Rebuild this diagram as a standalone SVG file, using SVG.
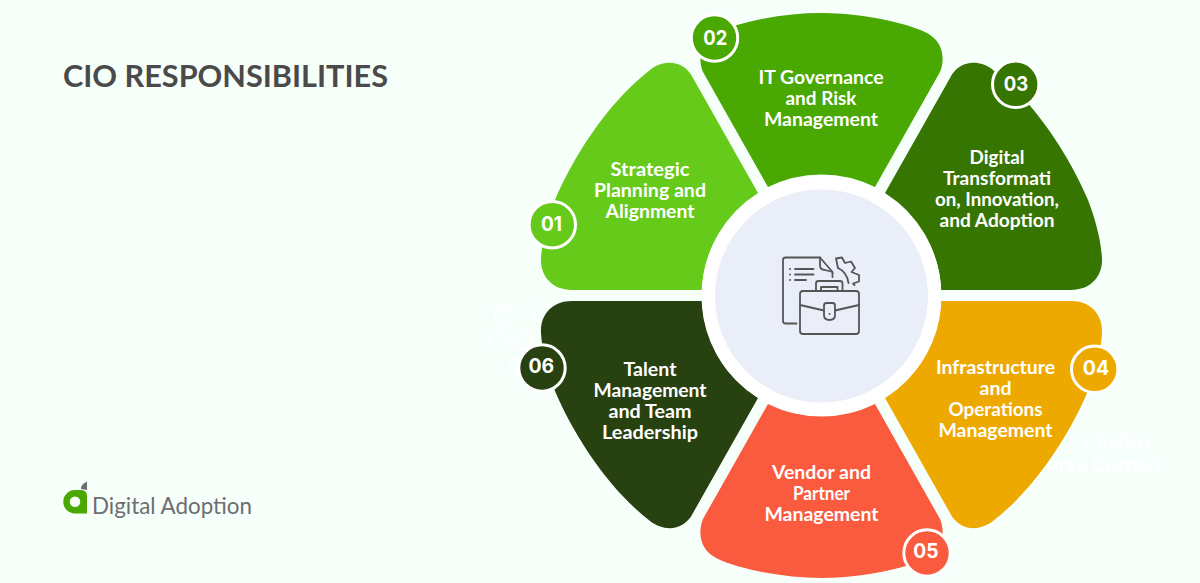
<svg xmlns="http://www.w3.org/2000/svg" width="1200" height="583" viewBox="0 0 1200 583">
<style>
text{font-family:"Lato","Liberation Sans",sans-serif}
.l{font-size:18px;font-weight:700;fill:#fff;text-anchor:middle}
.n{font-family:"Inter","Liberation Sans",sans-serif;font-size:20px;font-weight:700;fill:#fff;text-anchor:middle}
.b{stroke:#fff;stroke-width:3}
.i{fill:none;stroke:#555;stroke-width:1.8;stroke-linecap:round;stroke-linejoin:round}
.f{fill:none;stroke:#fff;stroke-width:2}
</style>
<defs>
<path id="side" d="M702 290L572 290C552 290 540 276 541 258C542 240 548 218 555 200C572 160 605 105 650 70C664 59 684 60 693 78L758 193A120 120 0 0 0 702 290Z"/>
<path id="top" d="M768 187L703 72C698 60 699 42 716 33C722 30 730 27 737 25C765 17 795 13 821.5 13C848 13 878 17 906 25C913 27 921 30 927 33C944 42 945 60 940 72L875 187A120 120 0 0 0 768 187Z"/>
</defs>
<rect width="1200" height="583" fill="#f6fffa"/>
<g id="title"><text x="63" y="87" font-size="30" font-weight="700" fill="#4a4a4a" textLength="325" lengthAdjust="spacingAndGlyphs">CIO RESPONSIBILITIES</text></g>
<g id="faint">
<circle class="f" cx="503.500" cy="315" r="9"/><circle class="f" cx="542" cy="313" r="9"/><circle class="f" cx="523" cy="340" r="9"/><circle class="f" cx="498" cy="340" r="9"/><circle class="f" cx="518" cy="366" r="8"/>
<text x="1152" y="450" font-size="20" font-weight="700" fill="#fff" text-anchor="end" textLength="68" lengthAdjust="spacingAndGlyphs">r, Reflect</text>
<text x="1162" y="472" font-size="20" font-weight="700" fill="#fff" text-anchor="end" textLength="115" lengthAdjust="spacingAndGlyphs">urse Correct</text>
</g>
<g id="node-01"><use href="#side" fill="#66ca1a"/>
<text class="l" x="650" y="175.500" textLength="79" lengthAdjust="spacingAndGlyphs">Strategic</text><text class="l" x="650" y="196.500" textLength="112" lengthAdjust="spacingAndGlyphs">Planning and</text><text class="l" x="650" y="217.500" textLength="89" lengthAdjust="spacingAndGlyphs">Alignment</text>
<circle class="b" cx="552.300" cy="224.700" r="23.200" fill="#66ca1a"/><text class="n" x="551.500" y="231" textLength="21" lengthAdjust="spacingAndGlyphs">01</text></g>
<g id="node-02"><use href="#top" fill="#4aa802"/>
<text class="l" x="821" y="84" textLength="125" lengthAdjust="spacingAndGlyphs">IT Governance</text><text class="l" x="821" y="105" textLength="71" lengthAdjust="spacingAndGlyphs">and Risk</text><text class="l" x="821" y="126" textLength="114" lengthAdjust="spacingAndGlyphs">Management</text>
<circle class="b" cx="714.500" cy="38" r="23.200" fill="#4aa802"/><text class="n" x="715.300" y="44.500" textLength="24" lengthAdjust="spacingAndGlyphs">02</text></g>
<g id="node-03"><use href="#side" transform="matrix(-1 0 0 1 1643 0)" fill="#367502"/>
<text class="l" x="997" y="164" textLength="55" lengthAdjust="spacingAndGlyphs">Digital</text><text class="l" x="997" y="185" textLength="108" lengthAdjust="spacingAndGlyphs">Transformati</text><text class="l" x="997" y="206" textLength="124" lengthAdjust="spacingAndGlyphs">on, Innovation,</text><text class="l" x="997" y="227" textLength="115" lengthAdjust="spacingAndGlyphs">and Adoption</text>
<circle class="b" cx="1015.700" cy="84.300" r="23.200" fill="#367502"/><text class="n" x="1016" y="90.800" textLength="24.500" lengthAdjust="spacingAndGlyphs">03</text></g>
<g id="node-04"><use href="#side" transform="matrix(-1 0 0 -1 1643 591)" fill="#eea900"/>
<text class="l" x="995.500" y="374" textLength="119" lengthAdjust="spacingAndGlyphs">Infrastructure</text><text class="l" x="995.500" y="395" textLength="32" lengthAdjust="spacingAndGlyphs">and</text><text class="l" x="995.500" y="416" textLength="94" lengthAdjust="spacingAndGlyphs">Operations</text><text class="l" x="995.500" y="437" textLength="114" lengthAdjust="spacingAndGlyphs">Management</text>
<circle class="b" cx="1094.700" cy="369.300" r="23.200" fill="#eea900"/><text class="n" x="1096" y="374.500" textLength="26.500" lengthAdjust="spacingAndGlyphs">04</text></g>
<g id="node-05"><use href="#top" transform="matrix(1 0 0 -1 0 591)" fill="#fa5a3e"/>
<text class="l" x="821.500" y="479" textLength="99" lengthAdjust="spacingAndGlyphs">Vendor and</text><text class="l" x="821.500" y="500" textLength="57" lengthAdjust="spacingAndGlyphs">Partner</text><text class="l" x="821.500" y="521" textLength="114" lengthAdjust="spacingAndGlyphs">Management</text>
<circle class="b" cx="927" cy="553" r="23.200" fill="#fa5a3e"/><text class="n" x="926" y="557.500" textLength="25.300" lengthAdjust="spacingAndGlyphs">05</text></g>
<g id="node-06"><use href="#side" transform="matrix(1 0 0 -1 0 591)" fill="#274110"/>
<text class="l" x="650" y="375.500" textLength="53" lengthAdjust="spacingAndGlyphs">Talent</text><text class="l" x="650" y="396.500" textLength="113" lengthAdjust="spacingAndGlyphs">Management</text><text class="l" x="650" y="417.500" textLength="83" lengthAdjust="spacingAndGlyphs">and Team</text><text class="l" x="650" y="438.500" textLength="96" lengthAdjust="spacingAndGlyphs">Leadership</text>
<circle class="b" cx="542" cy="368" r="23.200" fill="#274110"/><text class="n" x="541.300" y="372.500" textLength="25.700" lengthAdjust="spacingAndGlyphs">06</text></g>
<g id="hub">
<circle cx="821.500" cy="296" r="120" fill="#fff"/><circle cx="821.500" cy="296" r="106.500" fill="#e9eef8"/>
<g class="i">
<path d="M796.500 323.500H785.500Q783 323.500 783 321V260Q783 257.500 785.500 257.500H820L832.500 272V277"/>
<path d="M820 257.500V265Q820 270 825 270L832.500 272"/>
<path d="M795 269H813.500M795 274.500H813.500M795 280H806"/>
<path d="M790 269h.1M790 274.500h.1M790 280h.1"/>
<path d="M838 268L836 258.500L842 257.500L845 263L851 261.500L855 268L851.500 272L859 275L859 281.500L853 283.500L854.500 285"/>
<path d="M838 268Q847 272 848.500 283"/>
<rect x="800" y="291" width="59" height="43" rx="3"/>
<path d="M816 291V283.500Q816 281 818.500 281H840Q842.500 281 842.500 283.500V291"/>
<path d="M821 291V287H837.500V291"/>
<path d="M800 305L824 310.500M835 310.500L859 305"/>
<path d="M824 305.500Q824 303 826.500 303H832.500Q835 303 835 305.500V315Q835 320 829.500 320Q824 320 824 315Z"/>
<path d="M829.500 314h.1"/>
</g>
</g>
<g id="logo">
<path d="M75 490A11.700 11.700 0 1 0 75 513.500H87V496Q87 490 81 490Z M75 496.500A5.300 5.300 0 1 1 75 507.100A5.300 5.300 0 1 1 75 496.500Z" fill="#4aa802" fill-rule="evenodd"/>
<path d="M81 489Q81 484 87 481.500V490Z" fill="#6d6e71"/>
<text x="92" y="514" font-size="23" font-weight="400" fill="#6d6e71" textLength="160" lengthAdjust="spacingAndGlyphs">Digital Adoption</text>
</g>
</svg>
